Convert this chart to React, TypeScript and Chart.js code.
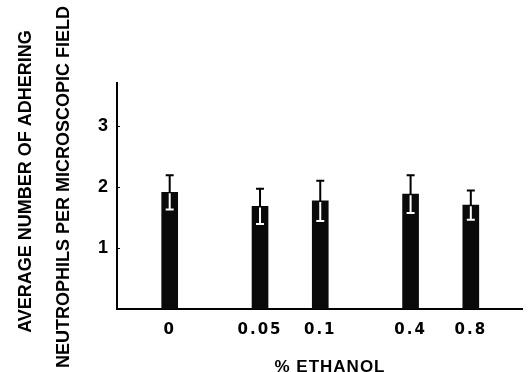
import React, { useEffect, useRef } from 'react';
import { Chart, registerables } from 'chart.js';

Chart.register(...registerables);

// ---- data ----
const categories = ['0', '0.05', '0.1', '0.4', '0.8'];
const xSlots = [0, 3, 5, 8, 10]; // spacing of the categories along the axis, as in the original
const means = [1.91, 1.68, 1.77, 1.88, 1.7];
const errors = [0.28, 0.29, 0.33, 0.31, 0.24];
const yTicks = [1, 2, 3];
const yTitleLines = ['AVERAGE NUMBER OF ADHERING', 'NEUTROPHILS PER MICROSCOPIC FIELD'];
const xTitle = '% ETHANOL';

const FONT = '"Liberation Sans", Arial, Helvetica, sans-serif';
const TICK_FONT = '"DejaVu Sans", "Liberation Sans", sans-serif';

const paperPlugin = {
  id: 'paper',
  beforeDraw(chart: any) {
    const ctx = chart.ctx;
    ctx.save();
    ctx.fillStyle = '#ffffff';
    ctx.fillRect(0, 0, chart.width, chart.height);
    ctx.restore();
    ctx.letterSpacing = '2px';
  },
  afterDatasetsDraw(chart: any) {
    const ctx = chart.ctx;
    const meta = chart.getDatasetMeta(0);
    const ys = chart.scales.y;
    ctx.save();
    ctx.letterSpacing = '0px';
    ctx.lineWidth = 2;
    ctx.lineCap = 'butt';
    meta.data.forEach((bar: any, i: number) => {
      const x = bar.x;
      const top = ys.getPixelForValue(means[i]);
      const hi = ys.getPixelForValue(means[i] + errors[i]);
      const lo = ys.getPixelForValue(means[i] - errors[i]);
      const cap = 4;
      ctx.strokeStyle = '#000000';
      ctx.beginPath();
      ctx.moveTo(x, top);
      ctx.lineTo(x, hi);
      ctx.moveTo(x - cap, hi);
      ctx.lineTo(x + cap, hi);
      ctx.stroke();
      ctx.strokeStyle = '#ffffff';
      ctx.beginPath();
      ctx.moveTo(x, top + 1);
      ctx.lineTo(x, lo);
      ctx.moveTo(x - cap, lo);
      ctx.lineTo(x + cap, lo);
      ctx.stroke();
    });
    ctx.restore();
  },
  afterDraw(chart: any) {
    const ctx = chart.ctx;
    ctx.letterSpacing = '0px';
    const ys = chart.scales.y;
    const area = chart.chartArea;
    ctx.save();
    ctx.strokeStyle = '#000000';
    ctx.lineWidth = 1;
    yTicks.forEach((v) => {
      const p = Math.round(ys.getPixelForValue(v)) + 0.5;
      ctx.beginPath();
      ctx.moveTo(area.left, p);
      ctx.lineTo(area.left + 3, p);
      ctx.stroke();
    });
    ctx.fillStyle = '#000000';
    ctx.font = `bold 18px ${FONT}`;
    ctx.textAlign = 'center';
    ctx.textBaseline = 'alphabetic';
    const yPos = [
      [31, 181.5],
      [68.5, 187],
    ];
    yTitleLines.forEach((t, i) => {
      ctx.save();
      ctx.translate(yPos[i][0], yPos[i][1]);
      ctx.rotate(-Math.PI / 2);
      ctx.fillText(t, 0, 0);
      ctx.restore();
    });
    ctx.font = `bold 17px ${FONT}`;
    ctx.letterSpacing = '1px';
    ctx.fillText(xTitle, 330, 372);
    ctx.restore();
  },
};

export default function App() {
  const ref = useRef<HTMLCanvasElement | null>(null);
  useEffect(() => {
    if (!ref.current) return;
    const chart = new Chart(ref.current, {
      type: 'bar',
      data: {
        datasets: [
          {
            data: xSlots.map((x, i) => ({ x, y: means[i] })),
            backgroundColor: '#0a0a0a',
            borderWidth: 0,
            barThickness: 16,
          },
        ],
      },
      options: {
        responsive: false,
        animation: false,
        events: [],
        layout: { padding: { top: 83, right: 6, left: 0, bottom: 0 } },
        plugins: {
          legend: { display: false },
          tooltip: { enabled: false },
          title: { display: false },
        },
        scales: {
          x: {
            type: 'linear',
            offset: false,
            min: -1.75,
            max: 11.7,
            grid: { display: false, drawTicks: false, offset: false },
            border: { display: true, color: '#000000', width: 2 },
            afterBuildTicks: (scale: any) => {
              scale.ticks = xSlots.map((v) => ({ value: v }));
            },
            afterFit: (scale: any) => {
              scale.height = 63;
            },
            ticks: {
              autoSkip: false,
              maxRotation: 0,
              padding: 12,
              color: '#000000',
              font: { family: TICK_FONT, size: 15, weight: 'bold' },
              callback: (value: any) => {
                const idx = xSlots.indexOf(Number(value));
                return idx >= 0 ? categories[idx] : '';
              },
            },
          },
          y: {
            min: 0,
            max: 3.7,
            grid: { display: false, drawTicks: false },
            border: { display: true, color: '#000000', width: 2 },
            afterBuildTicks: (scale: any) => {
              scale.ticks = yTicks.map((v) => ({ value: v }));
            },
            afterFit: (scale: any) => {
              scale.width = 117;
            },
            ticks: {
              padding: 7,
              color: '#000000',
              font: { family: FONT, size: 18, weight: 'bold' },
            },
          },
        },
      },
      plugins: [paperPlugin],
    } as any);
    return () => chart.destroy();
  }, []);
  return (
    <div style={{ position: 'fixed', left: 0, top: 0, width: 528, height: 372, background: '#fff' }}>
      <canvas ref={ref} width={528} height={372} />
    </div>
  );
}
